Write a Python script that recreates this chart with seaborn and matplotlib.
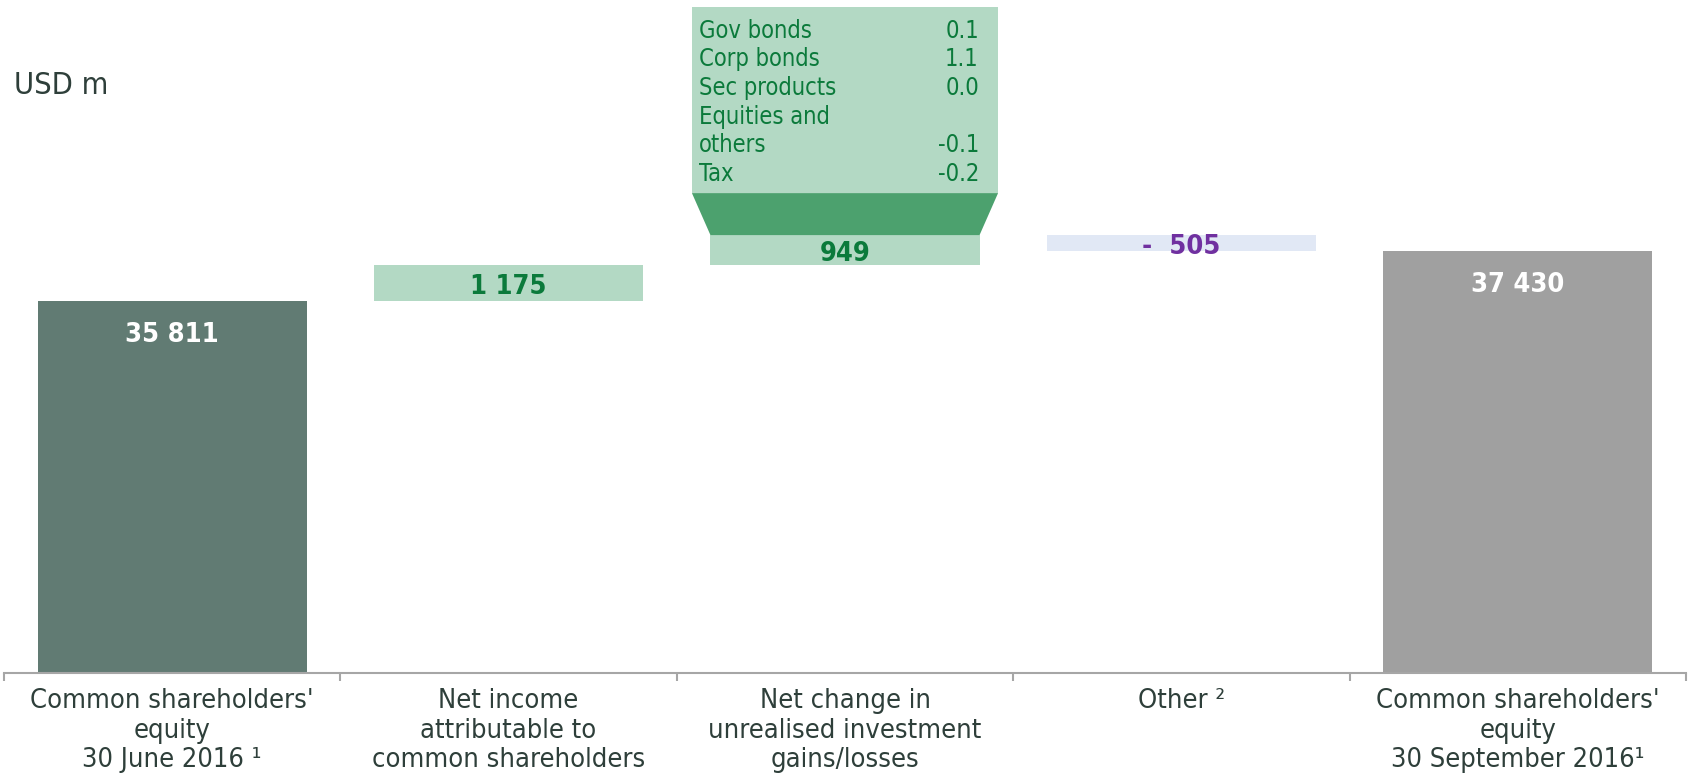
import matplotlib
matplotlib.use("Agg")
import matplotlib.pyplot as plt
import matplotlib.patches as mpatches
import seaborn as sns
import pandas as pd

# --- data ---
categories = ["Common shareholders'\nequity\n30 June 2016 \u00b9",
              "Net income\nattributable to\ncommon shareholders",
              "Net change in\nunrealised investment\ngains/losses",
              "Other \u00b2",
              "Common shareholders'\nequity\n30 September 2016\u00b9"]
values = [35811, 1175, 949, -505, 37430]
kinds = ["total", "delta", "delta", "delta", "total"]
value_labels = ["35 811", "1 175", "949", "-  505", "37 430"]
bar_colors = ["#617B73", "#B3D9C4", "#B3D9C4", "#E1E8F5", "#A0A0A0"]
label_colors = ["white", "#0B7A3B", "#0B7A3B", "#7030A0", "white"]

breakdown_names = ["Gov bonds", "Corp bonds", "Sec products", "Equities and", "others", "Tax"]
breakdown_values = ["0.1", "1.1", "0.0", "", "-0.1", "-0.2"]

# waterfall bottoms / heights
bottoms, heights = [], []
running = 0
for v, k in zip(values, kinds):
    if k == "total":
        bottoms.append(0)
        heights.append(v)
        running = v
    else:
        lo = running + min(v, 0)
        bottoms.append(lo)
        heights.append(abs(v))
        running += v
df = pd.DataFrame({"cat": categories, "height": heights, "bottom": bottoms})

YMIN, YMAX = 23900, 45470
W, H = 1690, 780
AX_H = 673
k = AX_H / (YMAX - YMIN)          # pixels per data unit
px = lambda p: p / k               # pixel -> data units

sns.set_theme(style="white")
plt.rcParams["font.family"] = ["DejaVu Sans"]
plt.rcParams["font.stretch"] = "condensed"
text_col = "#2E3F3A"

fig = plt.figure(figsize=(W / 100, H / 100), dpi=100)
ax = fig.add_axes([4 / W, (H - AX_H) / H, 1682 / W, AX_H / H])

sns.barplot(data=df, x="cat", y="height", bottom=df["bottom"].values, order=categories,
            color=bar_colors[0], saturation=1, width=0.8, linewidth=0, ax=ax)
for patch, c in zip(ax.patches, bar_colors):
    patch.set_facecolor(c)
    patch.set_edgecolor("none")

ax.set_xlim(-0.5, 4.5)
ax.set_ylim(YMIN, YMAX)

# value labels
for i, (b, h, lab, col, kd) in enumerate(zip(bottoms, heights, value_labels, label_colors, kinds)):
    top = b + h
    if kd == "total":
        y = top - px(34)
    else:
        y = b + h / 2 - px(4)
    ax.text(i, y, lab, ha="center", va="center", fontsize=19.5, fontweight="bold", color=col)

# callout above the unrealised gains bar
i3 = 2
top3 = bottoms[i3] + heights[i3]
trap_top = top3 + px(42)
box_top = top3 + px(228)
hw_box, hw_bar = 0.455, 0.4
ax.add_patch(mpatches.Polygon([(i3 - hw_bar, top3), (i3 + hw_bar, top3),
                               (i3 + hw_box, trap_top), (i3 - hw_box, trap_top)],
                              closed=True, facecolor="#4CA16E", edgecolor="none"))
ax.add_patch(mpatches.Rectangle((i3 - hw_box, trap_top), 2 * hw_box, box_top - trap_top,
                                facecolor="#B3D9C4", edgecolor="none"))
for j, (nm, vv) in enumerate(zip(breakdown_names, breakdown_values)):
    y = box_top - px(23.5 + j * 28.7)
    ax.text(i3 - hw_box + 0.02, y, nm, ha="left", va="center", fontsize=17, color="#0B7A3B")
    if vv:
        ax.text(i3 + hw_box - 0.057, y, vv, ha="right", va="center", fontsize=17, color="#0B7A3B")

# axis styling
for s in ["top", "right", "left"]:
    ax.spines[s].set_visible(False)
ax.spines["bottom"].set_color("#A6A6A6")
ax.spines["bottom"].set_linewidth(1.5)
ax.set_yticks([])
ax.set_xlabel("")
ax.set_ylabel("")
ax.set_xticks(range(len(categories)))
ax.set_xticklabels(categories, fontsize=19.5, color=text_col, linespacing=1.17)
ax.tick_params(axis="x", which="major", length=0, pad=11)
ax.set_xticks([i - 0.5 for i in range(len(categories) + 1)], minor=True)
ax.tick_params(axis="x", which="minor", bottom=True, length=6, width=1.5,
               color="#A6A6A6", direction="out")

fig.text(14 / W, 1 - 85 / H, "USD m", ha="left", va="center", fontsize=22, color=text_col)

fig.savefig("out.png", dpi=100)
